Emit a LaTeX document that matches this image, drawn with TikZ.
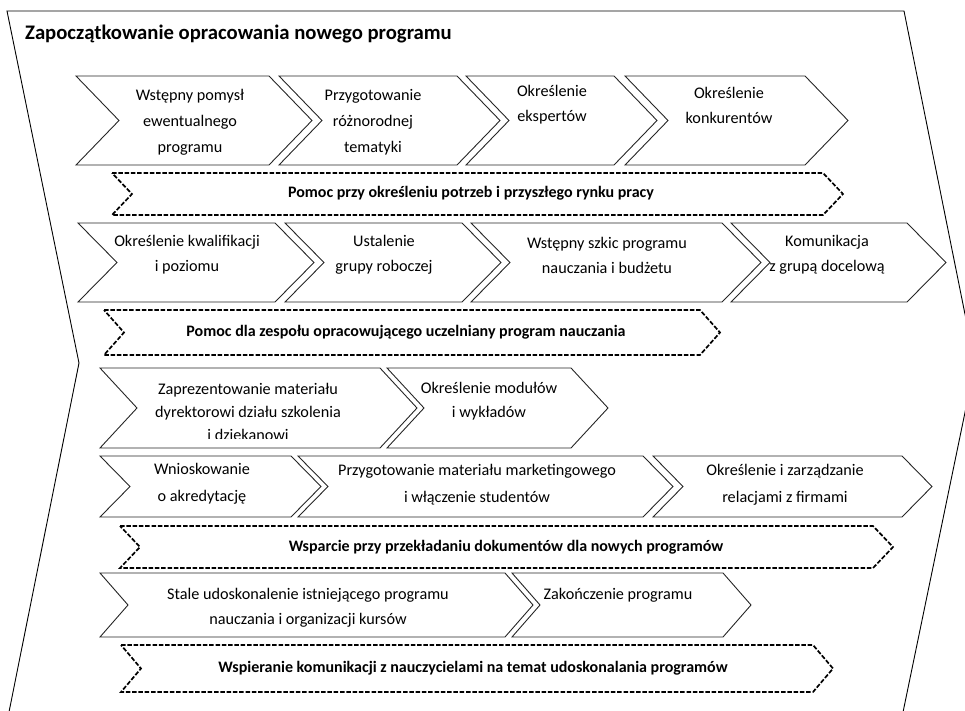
\documentclass[tikz,border=0pt]{standalone}
\usepackage{fontspec}
\setmainfont{Carlito}

% chevron: [style]{left x}{right x}{top y}{bottom y}{depth}
\newcommand{\chevbox}[6][chev]{%
  \draw[#1] (#2,#4) -- (#3,#4) -- ({#3+#6},{(#4+#5)/2}) -- (#3,#5)
    -- (#2,#5) -- ({#2+#6},{(#4+#5)/2}) -- cycle;}

\begin{document}
\begin{tikzpicture}[x=1pt, y=-1pt,
    chev/.style={draw=black!85, line width=0.9pt},
    band/.style={draw=black, line width=1.7pt, dash pattern=on 4.5pt off 1.8pt},
    txt/.style={align=center, inner sep=0pt, font=\fontsize{16.2}{25}\selectfont},
    bandtxt/.style={inner sep=0pt, font=\bfseries\fontsize{16}{19}\selectfont}]
        % Page size and clipping of the big outer arrow
        \useasboundingbox (0,0) rectangle (965,711);
        \clip (0,0) rectangle (965,711);
        \draw[line width=0.9pt] (7,11) -- (904,11) -- (975,364) -- (902,717)
            -- (8,717) -- (79,363) -- cycle;

        % Title
        \node[anchor=base west, inner sep=0pt, font=\bfseries\fontsize{20.7}{23}\selectfont]
            (title) at (25,40) {Zapoczątkowanie opracowania nowego programu};

        % First row
        \chevbox{76}{269}{76}{165}{43}
        \chevbox{279}{457}{76}{165}{43}
        \chevbox{466}{614}{76}{165}{43}
        \chevbox{625}{805}{76}{165}{43}
        \node[txt, font=\fontsize{16.2}{26}\selectfont] (idea) at (190,122)
            {Wstępny pomysł\\ewentualnego\\programu};
        \node[txt, font=\fontsize{16.2}{26}\selectfont] (topics) at (373,122)
            {Przygotowanie\\różnorodnej\\tematyki};
        \node[txt] (experts) at (552,105) {Określenie\\ekspertów};
        \node[txt] (rivals) at (729,105) {Określenie\\konkurentów};

        % Support band 1
        \chevbox[band]{112}{823}{173}{215}{20}
        \node[bandtxt] (needs) at (471,193)
            {Pomoc przy określeniu potrzeb i przyszłego rynku pracy};

        % Second row
        \chevbox{78}{275}{223}{302}{39}
        \chevbox{285}{462}{223}{302}{39}
        \chevbox{471}{722}{223}{302}{39}
        \chevbox{731}{907}{223}{302}{39}
        \node[txt] (level) at (187,255) {Określenie kwalifikacji\\i poziomu};
        \node[txt] (group) at (384,255) {Ustalenie\\grupy roboczej};
        \node[txt] (draft) at (607,255) {Wstępny szkic programu\\nauczania i budżetu};
        \node[txt] (target) at (827,255) {Komunikacja\\z grupą docelową};

        % Support band 2
        \chevbox[band]{104}{700}{310}{355}{20}
        \node[bandtxt] (team) at (406,332)
            {Pomoc dla zespołu opracowującego uczelniany program nauczania};

        % Third row (last line of the first box is cut off)
        \chevbox{100}{380}{368}{448}{37}
        \chevbox{387}{571}{368}{448}{37}
        \begin{scope}
            \clip (100,369) rectangle (420,438.5);
            \node[txt, font=\fontsize{16.2}{23}\selectfont] (dean) at (248,412)
                {Zaprezentowanie materiału\\dyrektorowi działu szkolenia\\i dziekanowi};
        \end{scope}
        \node[txt, font=\fontsize{16.2}{24}\selectfont] (modules) at (489,401)
            {Określenie modułów\\i wykładów};

        % Fourth row
        \chevbox{100}{291}{456}{517}{30}
        \chevbox{298}{643}{456}{517}{30}
        \chevbox{653}{902}{456}{517}{30}
        \node[txt, font=\fontsize{16.2}{27}\selectfont] (accred) at (202,484)
            {Wnioskowanie\\o akredytację};
        \node[txt, font=\fontsize{16.2}{27}\selectfont] (market) at (477,485)
            {Przygotowanie materiału marketingowego\\i włączenie studentów};
        \node[txt, font=\fontsize{16.2}{27}\selectfont] (firms) at (785,485)
            {Określenie i zarządzanie\\relacjami z firmami};

        % Support band 3
        \chevbox[band]{120}{873}{526}{568}{20}
        \node[bandtxt] (docs) at (506,547)
            {Wsparcie przy przekładaniu dokumentów dla nowych programów};

        % Fifth row
        \chevbox{100}{505}{573}{637}{28}
        \chevbox{512}{723}{573}{637}{28}
        \node[txt] (improve) at (308,608)
            {Stale udoskonalenie istniejącego programu\\nauczania i organizacji kursów};
        \node[txt] (close) at (618,595) {Zakończenie programu};

        % Support band 4
        \chevbox[band]{121}{813}{645}{692}{20}
        \node[bandtxt] (teachers) at (473,668)
            {Wspieranie komunikacji z nauczycielami na temat udoskonalania programów};
    \end{tikzpicture}
\end{document}
